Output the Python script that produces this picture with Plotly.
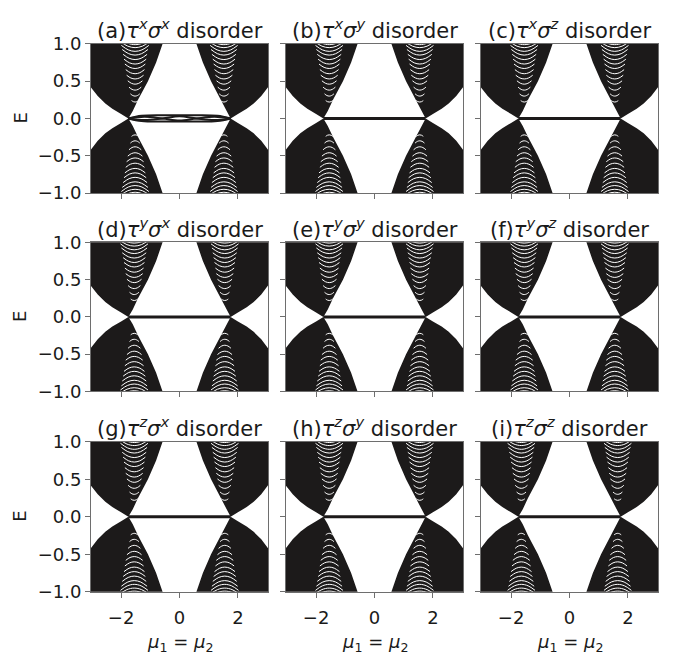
import plotly.graph_objects as go

W, H = 680, 658

# ---------------- data ----------------
panel_tags = ["(a)", "(b)", "(c)", "(d)", "(e)", "(f)", "(g)", "(h)", "(i)"]
tau_comp = ["x", "x", "x", "y", "y", "y", "z", "z", "z"]
sigma_comp = ["x", "y", "z", "x", "y", "z", "x", "y", "z"]

x_ticks = [-2, 0, 2]
x_ticklabels = ["\u22122", "0", "2"]
y_ticks = [-1.0, -0.5, 0.0, 0.5, 1.0]
y_ticklabels = ["\u22121.0", "\u22120.5", "0.0", "0.5", "1.0"]

# band edge of the upper (E>0) continuum
mu_edge = [-3.3, -3.03, -2.8, -2.54, -2.3, -2.0, -1.75, -1.6, -1.42, -1.08, -0.8, -0.58,
           -0.4, 0.0, 0.4, 0.58, 0.8, 1.08, 1.42, 1.6, 1.75, 2.0, 2.3, 2.54, 2.8, 3.03, 3.3]
e_edge_upper = [0.55, 0.42, 0.3, 0.2, 0.13, 0.06, 0.0, 0.1, 0.25, 0.5, 0.75, 1.0,
                1.2, 1.5, 1.2, 1.0, 0.75, 0.5, 0.25, 0.1, 0.0, 0.06, 0.13, 0.2, 0.3, 0.42, 0.55]
e_edge_lower = [-0.55, -0.42, -0.3, -0.2, -0.13, -0.06, 0.0, -0.1, -0.25, -0.5, -0.75, -1.0,
                -1.2, -1.5, -1.2, -1.0, -0.75, -0.5, -0.25, -0.1, 0.0, -0.06, -0.13, -0.2, -0.3, -0.42, -0.55]

# zero-energy flat band (panels b-i)
zero_mu = [-1.75, 1.75]
zero_e = [0.0, 0.0]

# panel (a): split zero modes
a_mu = [-1.75, -1.3, -0.6, 0.0, 0.6, 1.3, 1.75]
a_top = [0.0, 0.035, 0.042, 0.042, 0.042, 0.035, 0.0]
a_bot = [0.0, -0.035, -0.042, -0.042, -0.042, -0.035, 0.0]
a_mu_w = [-1.75, -1.2, -0.58, 0.0, 0.58, 1.2, 1.75]
a_wave1 = [0.0, 0.022, 0.0, -0.028, 0.0, 0.022, 0.0]
a_wave2 = [0.0, -0.022, 0.0, 0.028, 0.0, -0.022, 0.0]

# white gaps between sub-bands: apex energy, half width, end rise
arc_apex_e = [0.22, 0.30, 0.38, 0.46, 0.53, 0.60, 0.67, 0.73, 0.79, 0.85, 0.90, 0.95, 0.99]
arc_half_w = [0.12, 0.16, 0.21, 0.25, 0.29, 0.32, 0.35, 0.38, 0.41, 0.44, 0.47, 0.50, 0.52]
arc_rise = [0.02, 0.03, 0.04, 0.045, 0.05, 0.055, 0.06, 0.065, 0.07, 0.075, 0.08, 0.08, 0.08]
arc_tmpl_dx = [-1.0, -0.5, 0.0, 0.5, 1.0]
arc_tmpl_dy = [1.0, 0.25, 0.0, 0.25, 1.0]
arc_center_mu = [-1.52, -1.55, -1.55, -1.55, -1.55, -1.55, -1.55, -1.55, -1.65]

# ---------------- layout geometry ----------------
col_px = [(91, 268), (286, 463), (481, 658)]
row_px = [(34, 188), (239, 393), (445, 600)]

BAND = "#1c1a1a"
SPINE = "#6e6e6e"
TXT = "#1a1a1a"
FONT = "DejaVu Sans"
TICK_SIZE = 18
TITLE_SIZE = 21
LABEL_SIZE = 18

fig = go.Figure()
layout = dict(width=W, height=H, margin=dict(l=0, r=0, t=0, b=0),
              paper_bgcolor="white", plot_bgcolor="white", showlegend=False)
annotations = []

for k in range(9):
    r, c = divmod(k, 3)
    n = "" if k == 0 else str(k + 1)
    xa, ya = "x" + n, "y" + n
    x0, x1 = col_px[c]
    y0, y1 = row_px[r]
    layout["xaxis" + n] = dict(
        domain=[x0 / W, x1 / W], anchor=ya, range=[-3.03, 3.03],
        tickvals=x_ticks, ticktext=x_ticklabels, showticklabels=(r == 2),
        ticks="outside", ticklen=5, tickwidth=1, tickcolor=SPINE, ticklabelstandoff=5,
        showline=True, linecolor=SPINE, linewidth=1, mirror=True,
        showgrid=False, zeroline=False,
        tickfont=dict(family=FONT, size=TICK_SIZE, color=TXT))
    layout["yaxis" + n] = dict(
        domain=[1 - y1 / H, 1 - y0 / H], anchor=xa, range=[-1.0, 1.0],
        tickvals=y_ticks, ticktext=y_ticklabels, showticklabels=(c == 0),
        ticks="outside", ticklen=5, tickwidth=1, tickcolor=SPINE,
        showline=True, linecolor=SPINE, linewidth=1, mirror=True,
        showgrid=False, zeroline=False,
        tickfont=dict(family=FONT, size=TICK_SIZE, color=TXT))

    # continuum bands
    fig.add_trace(go.Scatter(x=mu_edge + [3.3, -3.3], y=e_edge_upper + [1.6, 1.6],
                             fill="toself", fillcolor=BAND, mode="lines",
                             line=dict(width=0, color=BAND), xaxis=xa, yaxis=ya,
                             hoverinfo="skip"))
    fig.add_trace(go.Scatter(x=mu_edge + [3.3, -3.3], y=e_edge_lower + [-1.6, -1.6],
                             fill="toself", fillcolor=BAND, mode="lines",
                             line=dict(width=0, color=BAND), xaxis=xa, yaxis=ya,
                             hoverinfo="skip"))

    # white sub-band gaps
    ax_, ay_ = [], []
    mc = arc_center_mu[k]
    for sx in (1, -1):
        cen = mc * sx
        for e0, w, d in zip(arc_apex_e, arc_half_w, arc_rise):
            for sy in (1, -1):
                ax_ += [cen + w * t for t in arc_tmpl_dx] + [None]
                ay_ += [sy * (e0 + d * t) for t in arc_tmpl_dy] + [None]
    fig.add_trace(go.Scatter(x=ax_, y=ay_, mode="lines",
                             line=dict(color="white", width=1.0, shape="spline"),
                             xaxis=xa, yaxis=ya, hoverinfo="skip", connectgaps=False))

    # zero modes
    if k == 0:
        for xs, ys in ((a_mu, a_top), (a_mu, a_bot), (a_mu_w, a_wave1), (a_mu_w, a_wave2)):
            fig.add_trace(go.Scatter(x=xs, y=ys, mode="lines",
                                     line=dict(color=BAND, width=2, shape="spline"),
                                     xaxis=xa, yaxis=ya, hoverinfo="skip"))
    else:
        fig.add_trace(go.Scatter(x=zero_mu, y=zero_e, mode="lines",
                                 line=dict(color=BAND, width=3),
                                 xaxis=xa, yaxis=ya, hoverinfo="skip"))

    # title
    title = (f"{panel_tags[k]}<i>\u03c4</i><sup><i>{tau_comp[k]}</i></sup>"
             f"<i>\u03c3</i><sup><i>{sigma_comp[k]}</i></sup> disorder")
    annotations.append(dict(text=title, x=(x0 + x1) / 2 / W, y=1 - (y0 - 15) / H,
                            xref="paper", yref="paper", xanchor="center", yanchor="middle",
                            showarrow=False, font=dict(family=FONT, size=TITLE_SIZE, color=TXT)))

# axis labels
for r in range(3):
    y0, y1 = row_px[r]
    annotations.append(dict(text="E", x=20 / W, y=1 - (y0 + y1) / 2 / H, xref="paper",
                            yref="paper", textangle=-90, showarrow=False,
                            xanchor="center", yanchor="middle",
                            font=dict(family=FONT, size=LABEL_SIZE, color=TXT)))
for c in range(3):
    x0, x1 = col_px[c]
    annotations.append(dict(text="<i>\u03bc</i><sub>1</sub> = <i>\u03bc</i><sub>2</sub>",
                            x=(x0 + x1) / 2 / W, y=1 - 667 / H, xref="paper", yref="paper",
                            showarrow=False, xanchor="center", yanchor="bottom",
                            font=dict(family=FONT, size=LABEL_SIZE, color=TXT)))

layout["annotations"] = annotations
fig.update_layout(**layout)
fig.write_html("out.html")
